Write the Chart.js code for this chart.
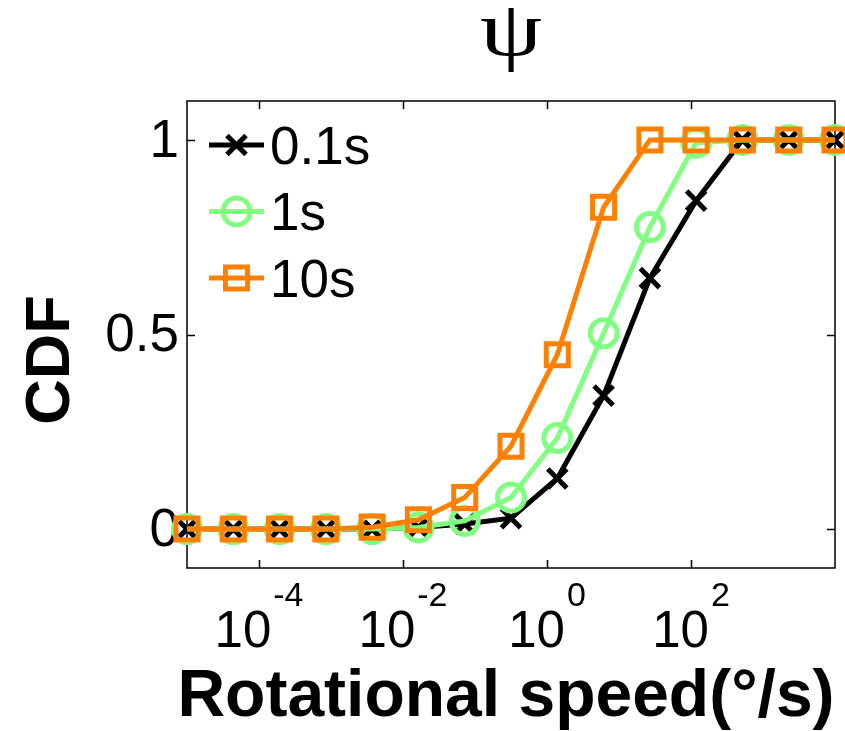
<!DOCTYPE html>
<html><head><meta charset="utf-8">
<script src="https://cdn.jsdelivr.net/npm/chart.js@4/dist/chart.umd.min.js"></script>
<style>html,body{margin:0;padding:0;background:#fff}#wrap{width:845px;height:731px;position:relative}</style>
</head><body><div id="wrap"><canvas id="c" width="845" height="731"></canvas></div>
<script>
// ---- data ----
const speeds = [1e-5, 4.394e-5, 1.932e-4, 8.49e-4, 3.724e-3, 1.637e-2, 7.194e-2, 0.3162, 1.39, 6.109, 26.85, 117.8, 517.6, 2275, 1e4];
const cdf01 = [0, 0, 0, 0, 0, 0.004, 0.013, 0.028, 0.13, 0.343, 0.645, 0.844, 1, 1, 1];
const cdf1  = [0, 0, 0, 0, 0, 0.004, 0.021, 0.081, 0.234, 0.503, 0.776, 0.993, 1, 1, 1];
const cdf10 = [0, 0, 0, 0, 0.005, 0.024, 0.081, 0.213, 0.448, 0.827, 1, 1, 1, 1, 1];
const seriesNames = ['0.1s', '1s', '10s'];
const xTickValues = [1e-4, 1e-2, 1, 1e2];
const xTickBase = '10';
const xTickExponents = ['-4', '-2', '0', '2'];
const yTickValues = [0, 0.5, 1];
const yTickLabels = ['0', '0.5', '1'];
const titleText = 'ψ';
const xTitle = 'Rotational speed(°/s)';
const yTitle = 'CDF';

const toXY = ys => speeds.map((x, i) => ({x: x, y: ys[i]}));

const styles = [
  {color: '#000000', pointStyle: 'crossRot', radius: 13.5, bw: 5, order: 2},
  {color: '#80FF80', pointStyle: 'circle', radius: 13.5, bw: 5, order: 1},
  {color: '#FF8000', pointStyle: 'rect', radius: 15.6, bw: 5, order: 0}
];
const series = [cdf01, cdf1, cdf10];

const datasets = series.map((s, i) => ({
  label: seriesNames[i],
  data: toXY(s),
  borderColor: styles[i].color,
  borderWidth: 5,
  pointStyle: styles[i].pointStyle,
  pointRadius: styles[i].radius,
  pointBorderWidth: styles[i].bw,
  pointBorderColor: styles[i].color,
  pointBackgroundColor: 'rgba(0,0,0,0)',
  tension: 0,
  fill: false,
  clip: false,
  order: styles[i].order
}));

function drawMarker(ctx, style, x, y) {
  const r = style.radius;
  ctx.save();
  ctx.strokeStyle = style.color;
  ctx.lineWidth = style.bw;
  ctx.beginPath();
  if (style.pointStyle === 'circle') {
    ctx.arc(x, y, r, 0, Math.PI * 2);
  } else if (style.pointStyle === 'rect') {
    const s = r * Math.SQRT1_2;
    ctx.rect(x - s, y - s, 2 * s, 2 * s);
  } else {
    const o = r * Math.SQRT1_2;
    ctx.moveTo(x - o, y - o); ctx.lineTo(x + o, y + o);
    ctx.moveTo(x - o, y + o); ctx.lineTo(x + o, y - o);
  }
  ctx.stroke();
  ctx.restore();
}

const framePlugin = {
  id: 'frame',
  beforeDatasetsDraw(chart) {
    const ctx = chart.ctx;
    const a = chart.chartArea;
    const xs = chart.scales.x, ys = chart.scales.y;
    ctx.save();
    ctx.strokeStyle = '#000';
    ctx.lineWidth = 1.5;
    ctx.strokeRect(a.left, a.top, a.right - a.left, a.bottom - a.top);
    const tl = 8;
    ctx.beginPath();
    xTickValues.forEach(v => {
      const px = Math.round(xs.getPixelForValue(v)) + 0.5;
      ctx.moveTo(px, a.bottom); ctx.lineTo(px, a.bottom - tl);
      ctx.moveTo(px, a.top); ctx.lineTo(px, a.top + tl);
    });
    yTickValues.forEach(v => {
      const py = Math.round(ys.getPixelForValue(v)) + 0.5;
      ctx.moveTo(a.left, py); ctx.lineTo(a.left + tl, py);
      ctx.moveTo(a.right, py); ctx.lineTo(a.right - tl, py);
    });
    ctx.stroke();

    ctx.fillStyle = '#000';
    // y tick labels
    ctx.font = '53px "Liberation Sans", Arial, sans-serif';
    ctx.textAlign = 'right';
    ctx.textBaseline = 'middle';
    yTickValues.forEach((v, i) => {
      ctx.fillText(yTickLabels[i], a.left - 8, ys.getPixelForValue(v) + 2);
    });
    // x tick labels with superscripts
    xTickValues.forEach((v, i) => {
      const px = xs.getPixelForValue(v);
      ctx.font = '51px "Liberation Sans", Arial, sans-serif';
      const wb = ctx.measureText(xTickBase).width;
      ctx.font = '34px "Liberation Sans", Arial, sans-serif';
      const we = ctx.measureText(xTickExponents[i]).width;
      const gap = 2;
      const start = px - (wb + gap + we) / 2;
      ctx.textAlign = 'left';
      ctx.textBaseline = 'alphabetic';
      ctx.font = '51px "Liberation Sans", Arial, sans-serif';
      ctx.fillText(xTickBase, start, 647);
      ctx.font = '34px "Liberation Sans", Arial, sans-serif';
      ctx.fillText(xTickExponents[i], start + wb + gap, 606);
    });
    // x title
    ctx.font = 'bold 66px "Liberation Sans", Arial, sans-serif';
    ctx.textAlign = 'center';
    ctx.textBaseline = 'alphabetic';
    ctx.fillText(xTitle, 506, 716);
    // y title
    ctx.save();
    ctx.translate(69, 360);
    ctx.rotate(-Math.PI / 2);
    ctx.font = 'bold 63px "Liberation Sans", Arial, sans-serif';
    ctx.textAlign = 'center';
    ctx.textBaseline = 'alphabetic';
    ctx.fillText(yTitle, 0, 0);
    ctx.restore();
    // title (psi), widened to match the symbol-font glyph
    ctx.save();
    ctx.translate(511, 55);
    ctx.scale(1.6, 1.25);
    ctx.font = '62px "Liberation Serif", "DejaVu Serif", serif';
    ctx.textAlign = 'center';
    ctx.textBaseline = 'alphabetic';
    ctx.fillText(titleText, 0, 0);
    ctx.restore();
    ctx.restore();
  },
  afterDraw(chart) {
    const ctx = chart.ctx;
    const rows = [145, 211.5, 278];
    ctx.save();
    styles.forEach((st, i) => {
      const y = rows[i];
      ctx.strokeStyle = st.color;
      ctx.lineWidth = 5;
      ctx.beginPath();
      ctx.moveTo(209, y); ctx.lineTo(264, y);
      ctx.stroke();
      drawMarker(ctx, st, 236.5, y);
      ctx.fillStyle = '#000';
      ctx.font = '53px "Liberation Sans", Arial, sans-serif';
      ctx.textAlign = 'left';
      ctx.textBaseline = 'middle';
      ctx.fillText(seriesNames[i], 270, y + 4);
    });
    ctx.restore();
  }
};

new Chart(document.getElementById('c'), {
  type: 'line',
  data: {datasets: datasets},
  options: {
    responsive: false,
    devicePixelRatio: 1,
    animation: false,
    layout: {autoPadding: false, padding: {left: 187, top: 101, right: 10, bottom: 163}},
    plugins: {legend: {display: false}, title: {display: false}, tooltip: {enabled: false}},
    scales: {
      x: {type: 'logarithmic', min: 1e-5, max: 1e4, display: false},
      y: {type: 'linear', min: -0.1, max: 1.1, display: false}
    }
  },
  plugins: [framePlugin]
});
</script>
</body></html>
